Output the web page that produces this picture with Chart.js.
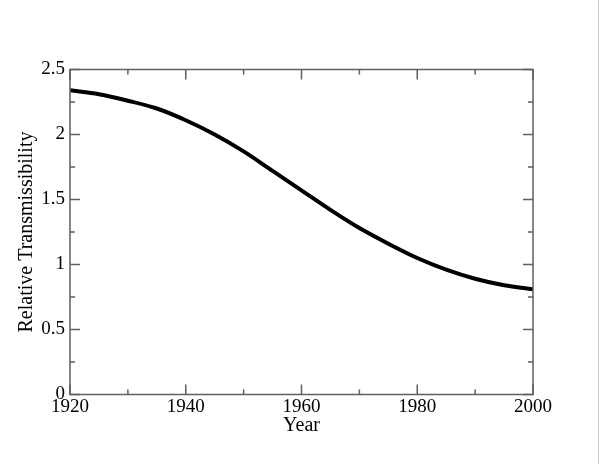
<!DOCTYPE html>
<html>
<head>
<meta charset="utf-8">
<script src="https://cdn.jsdelivr.net/npm/chart.js@4.4.0/dist/chart.umd.min.js"></script>
<style>
    html, body { margin: 0; padding: 0; background: #ffffff; }
    canvas { display: block; }
</style>
</head>
<body>
<canvas id="transChart" width="600" height="464"></canvas>
<script>

// values
const years = [1920, 1925, 1930, 1935, 1940, 1945, 1950, 1955, 1960,
    1965, 1970, 1975, 1980, 1985, 1990, 1995, 2000];

const transmissibility = [2.34, 2.31, 2.26, 2.20, 2.11, 2.00, 1.87, 1.72, 1.57,
    1.42, 1.28, 1.16, 1.05, 0.96, 0.89, 0.84, 0.81];

const xTicks = [1920, 1940, 1960, 1980, 2000];
const yTicks = [0, 0.5, 1, 1.5, 2, 2.5];

const serif = "'Liberation Serif', 'DejaVu Serif', serif";

// inward ticks on all four sides, like the original plot
const boxTicks = {

    id: "boxTicks",

    afterDraw(chart) {

        const ctx = chart.ctx;
        const area = chart.chartArea;
        const xs = chart.scales.x;
        const ys = chart.scales.y;

        ctx.save();
        ctx.strokeStyle = "#5f5f5f";
        ctx.lineWidth = 1.5;

        ctx.strokeRect(area.left, area.top,
            area.right - area.left, area.bottom - area.top);

        for (let v = 1920; v <= 2000; v += 10) {
            const px = xs.getPixelForValue(v);
            const len = (v % 20 === 0) ? 10 : 5;
            ctx.beginPath();
            ctx.moveTo(px, area.bottom);
            ctx.lineTo(px, area.bottom - len);
            ctx.moveTo(px, area.top);
            ctx.lineTo(px, area.top + len);
            ctx.stroke();
        }

        for (let i = 0; i <= 10; i++) {
            const v = i * 0.25;
            const py = ys.getPixelForValue(v);
            const len = (i % 2 === 0) ? 10 : 5;
            ctx.beginPath();
            ctx.moveTo(area.left, py);
            ctx.lineTo(area.left + len, py);
            ctx.moveTo(area.right, py);
            ctx.lineTo(area.right - len, py);
            ctx.stroke();
        }

        // faint frame line on the right edge of the picture
        ctx.strokeStyle = "#cfcfcf";
        ctx.lineWidth = 1;
        ctx.beginPath();
        ctx.moveTo(chart.width - 1.5, 0);
        ctx.lineTo(chart.width - 1.5, chart.height);
        ctx.stroke();

        ctx.restore();

    }

};

new Chart(document.getElementById("transChart"), {

    type: "line",

    data: {
        datasets: [{
            data: years.map((y, i) => ({ x: y, y: transmissibility[i] })),
            borderColor: "#000000",
            borderWidth: 4,
            pointRadius: 0,
            fill: false,
            cubicInterpolationMode: "monotone"
        }]
    },

    options: {

        responsive: false,
        animation: false,

        layout: {
            padding: { top: 69.5, right: 67, left: 0, bottom: 0 }
        },

        plugins: {
            legend: { display: false },
            tooltip: { enabled: false }
        },

        scales: {

            x: {
                type: "linear",
                min: 1920,
                max: 2000,
                afterBuildTicks: (scale) => {
                    scale.ticks = xTicks.map(v => ({ value: v }));
                },
                afterFit: (scale) => {
                    scale.height = 69.5;
                },
                grid: { display: false, drawTicks: false },
                border: { display: false },
                ticks: {
                    color: "#000000",
                    padding: 1,
                    maxRotation: 0,
                    autoSkip: false,
                    font: { family: serif, size: 19 },
                    callback: (v) => String(v)
                },
                title: {
                    display: true,
                    text: "Year",
                    color: "#000000",
                    padding: { top: 0, bottom: 26 },
                    font: { family: serif, size: 20 }
                }
            },

            y: {
                min: 0,
                max: 2.5,
                afterBuildTicks: (scale) => {
                    scale.ticks = yTicks.map(v => ({ value: v }));
                },
                afterFit: (scale) => {
                    scale.width = 70;
                },
                grid: { display: false, drawTicks: false },
                border: { display: false },
                ticks: {
                    color: "#000000",
                    padding: 5,
                    autoSkip: false,
                    font: { family: serif, size: 19 },
                    callback: (v) => String(v)
                },
                title: {
                    display: true,
                    text: "Relative Transmissibility",
                    color: "#000000",
                    padding: { top: 15, bottom: 0 },
                    font: { family: serif, size: 20 }
                }
            }

        }

    },

    plugins: [boxTicks]

});

</script>
</body>
</html>
